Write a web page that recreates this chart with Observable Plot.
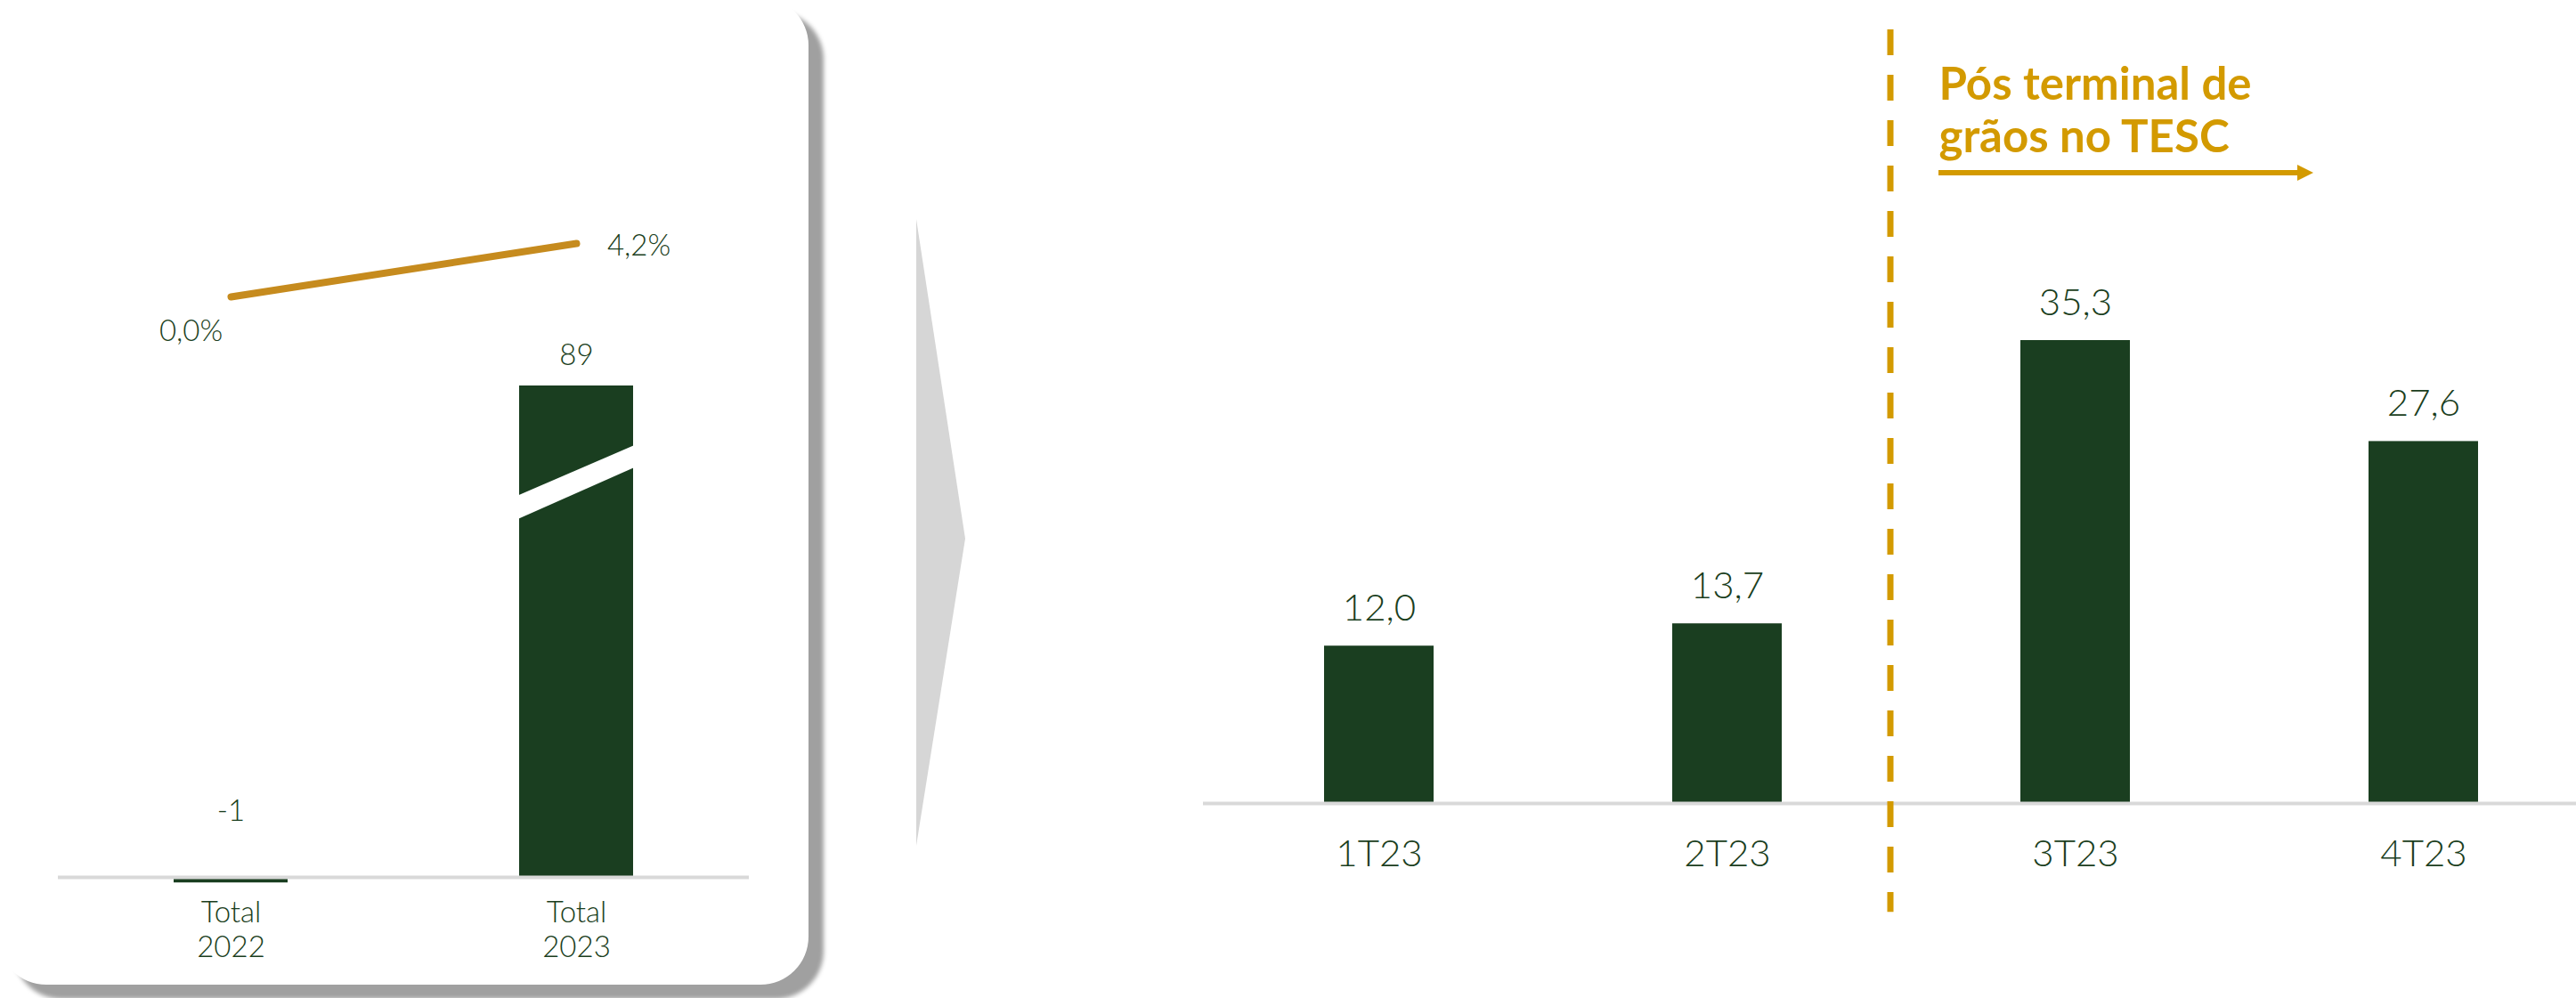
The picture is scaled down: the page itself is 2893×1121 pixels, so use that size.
<!DOCTYPE html>
<html>
<head>
<meta charset="utf-8">
<script src="https://cdn.jsdelivr.net/npm/d3@7"></script>
<script src="https://cdn.jsdelivr.net/npm/@observablehq/plot@0.6"></script>
<style>
  html, body { margin: 0; padding: 0; background: #fff; overflow: hidden; }
  #stage { position: relative; width: 2893px; height: 1121px; background: #fff; font-family: Lato, "Open Sans", sans-serif; }
  #card { position: absolute; left: -2px; top: -3px; width: 910px; height: 1109px; background: #fff;
          border-radius: 54px; box-shadow: 17px 16px 5px #a0a0a0; }
  .layer { position: absolute; left: 0; top: 0; }
</style>
</head>
<body>
<div id="stage">
  <div id="card"></div>
  <svg class="layer" width="2893" height="1121"><polygon points="1029,246 1084,605 1029,950" fill="#d6d6d6"/></svg>
</div>
<script>
// ---- data ----
const totalCategories = ["Total\n2022", "Total\n2023"];
const totalValues = [-1, 89];
const marginValues = [0.0, 4.2];          // % line over the totals
const quarterCategories = ["1T23", "2T23", "3T23", "4T23"];
const quarterValues = [12.0, 13.7, 35.3, 27.6];
const annotationText = "Pós terminal de\ngrãos no TESC";
const dividerBefore = "3T23";

// ---- style ----
const GREEN = "#1a3e20", TEXT = "#1a3e20", GOLD_LINE = "#c68b1e", GOLD = "#d39a00", BASE = "#d9d9d9";
const FONT = "Lato, 'Open Sans', sans-serif";
const LIGHT = 300;
const W = 2893, H = 1121;
const fmt = (v, d) => v.toFixed(d).replace(".", ",");
const common = {width: W, height: H, marginTop: 0, marginBottom: 0,
  style: {background: "transparent", fontFamily: FONT, overflow: "visible", maxWidth: "none"}};

const totals = totalCategories.map((c, i) => ({cat: c, value: totalValues[i]}));
const margins = totalCategories.map((c, i) => ({cat: c, value: marginValues[i]}));
const quarters = quarterCategories.map((c, i) => ({cat: c, value: quarterValues[i]}));

// white diagonal "axis break" drawn across the tall bar
function breakMark(index, scales) {
  const x = scales.x, y = scales.y;
  const bw = x.bandwidth ? x.bandwidth() : scales.scales.x.bandwidth;
  const cat = totalCategories[1], v = totalValues[1];
  const x0 = x(cat) - 2, x1 = x(cat) + bw + 2;
  const pts = [[x0, y(v * 0.776)], [x1, y(v * 0.879)], [x1, y(v * 0.834)], [x0, y(v * 0.728)]];
  return d3.create("svg:polygon").attr("points", pts.map(p => p.join(",")).join(" ")).attr("fill", "#fff").node();
}

const xLeft = {domain: totalCategories, paddingInner: 0.671, paddingOuter: 0.333, axis: null};
const LFS = 33;

const leftBars = Plot.plot({
  ...common,
  marginLeft: 65, marginRight: W - 841,
  x: xLeft,
  y: {domain: [0, 89], range: [985, 433], axis: null},
  marks: [
    Plot.barY(totals, {x: "cat", y: "value", fill: GREEN}),
    breakMark,
    Plot.ruleY([0], {stroke: BASE, strokeWidth: 4}),
    Plot.text(totals.filter(d => d.value >= 0), {x: "cat", y: "value", text: d => String(d.value),
      lineAnchor: "bottom", dy: -24, fontSize: LFS, fontWeight: LIGHT, fill: TEXT}),
    Plot.text(totals.filter(d => d.value < 0), {x: "cat", y: 0, text: d => String(d.value),
      lineAnchor: "bottom", dy: -64, fontSize: LFS, fontWeight: LIGHT, fill: TEXT}),
    Plot.text(totals, {x: "cat", y: 0, text: "cat", lineAnchor: "bottom", dy: 89, lineHeight: 1.18,
      fontSize: LFS, fontWeight: LIGHT, fill: TEXT})
  ]
});

const leftLine = Plot.plot({
  ...common,
  marginLeft: 65, marginRight: W - 841,
  x: xLeft,
  y: {domain: [0, 4.2], range: [333, 273], axis: null},
  marks: [
    Plot.line(margins, {x: "cat", y: "value", stroke: GOLD_LINE, strokeWidth: 8, strokeLinecap: "round"}),
    Plot.text([margins[0]], {x: "cat", y: "value", text: d => fmt(d.value, 1) + "%",
      lineAnchor: "bottom", dx: -45, dy: 49, fontSize: LFS, fontWeight: LIGHT, fill: TEXT}),
    Plot.text([margins[1]], {x: "cat", y: "value", text: d => fmt(d.value, 1) + "%",
      lineAnchor: "bottom", dx: 70, dy: 13, fontSize: LFS, fontWeight: LIGHT, fill: TEXT})
  ]
});

// arrow under the annotation
function annotationArrow() {
  const x0 = 2177, x1 = 2598, yA = 194;
  const g = d3.create("svg:g");
  g.append("line").attr("x1", x0).attr("x2", x1 - 14).attr("y1", yA).attr("y2", yA)
    .attr("stroke", GOLD).attr("stroke-width", 6);
  g.append("polygon").attr("points", `${x1 - 18},${yA - 9} ${x1},${yA} ${x1 - 18},${yA + 9}`).attr("fill", GOLD);
  return g.node();
}

const right = Plot.plot({
  ...common,
  marginLeft: 1351, marginRight: 0,
  x: {domain: quarterCategories, range: [1350.6, 2920.5], paddingInner: 0.685, paddingOuter: 0.35, axis: null},
  y: {domain: [0, 35.3], range: [902, 382], axis: null},
  marks: [
    Plot.barY(quarters, {x: "cat", y: "value", fill: GREEN}),
    Plot.ruleY([0], {stroke: BASE, strokeWidth: 4}),
    Plot.text(quarters, {x: "cat", y: "value", text: d => fmt(d.value, 1), lineAnchor: "bottom",
      dy: -29, fontSize: 42, fontWeight: LIGHT, fill: TEXT}),
    Plot.text(quarters, {x: "cat", y: 0, text: "cat", lineAnchor: "bottom", dy: 70, fontSize: 42,
      fontWeight: LIGHT, fill: TEXT}),
    Plot.ruleX([dividerBefore], {dx: -208, y1: 59, y2: -8.3, stroke: GOLD, strokeWidth: 7, strokeDasharray: "29,22"}),
    Plot.text([annotationText], {frameAnchor: "top-left", textAnchor: "start", lineAnchor: "bottom",
      dx: 2177 - 1351, dy: 170, lineHeight: 1.14, fontSize: 51, fontWeight: "bold", fill: GOLD}),
    annotationArrow
  ]
});

const stage = document.getElementById("stage");
for (const node of [leftBars, leftLine, right]) {
  node.style.position = "absolute";
  node.style.left = "0px";
  node.style.top = "0px";
  stage.appendChild(node);
}
</script>
</body>
</html>
